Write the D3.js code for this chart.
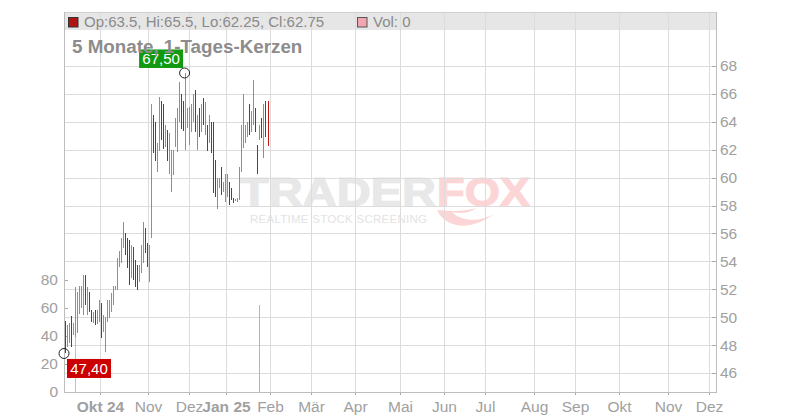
<!DOCTYPE html>
<html><head><meta charset="utf-8">
<script src="https://cdn.jsdelivr.net/npm/d3@7"></script>
<style>body{margin:0;background:#fff;} svg{display:block;font-family:"Liberation Sans",Arial,sans-serif;}</style>
</head><body><svg id="c" width="800" height="420"></svg>
<script>
// ---- data ----
const opens=[49.5,48.0,48.3,49.9,48.8,48.9,49.2,50.4,50.9,50.5,
52.8,50.4,51.6,50.4,49.7,50.3,49.6,49.8,50.8,49.1,
47.8,49.8,50.1,50.5,51.0,52.0,52.1,53.7,54.1,55.1,
55.9,55.4,55.3,53.0,54.9,53.9,53.6,52.6,53.3,54.1,
56.2,55.1,52.7,55.8,64.3,63.8,60.6,62.1,65.3,65.1,
62.3,63.2,60.4,59.1,60.3,62.4,62.0,64.2,65.8,65.3,
62.2,63.7,62.5,63.4,64.2,66.1,62.2,64.8,63.4,65.5,
63.2,63.6,62.6,63.8,63.8,61.0,57.9,59.3,60.6,59.0,
58.4,58.8,59.5,59.1,58.5,58.32,58.3,58.5,60.6,62.3,
62.6,63.0,65.1,63.4,63.9,64.8,62.2,62.8,64.1,61.6,
65.3,63.5];
const highs=[49.7,49.45,49.6,50.1,49.6,52.15,51.8,52.25,52.25,53.0,
53.0,52.15,51.8,50.5,50.35,50.5,50.5,51.25,51.0,50.15,
50.0,51.25,51.25,51.75,52.25,52.25,54.25,54.75,55.65,56.8,
56.05,55.65,55.55,55.15,55.05,54.1,53.75,53.75,55.15,56.8,
56.4,55.3,55.15,65.3,64.5,64.0,62.5,65.8,65.5,65.3,
63.75,63.4,63.2,62.0,62.0,64.25,65.0,66.85,66.0,65.5,
67.5,65.0,65.05,65.3,66.0,66.3,64.5,65.0,65.3,65.7,
65.4,63.75,64.5,64.0,64.0,61.25,59.95,59.95,60.75,59.7,
60.25,60.25,59.7,59.25,58.55,58.45,58.55,60.75,63.75,66.0,
63.75,64.0,65.3,64.75,67.0,65.0,62.35,63.75,64.25,65.3,
65.5,65.5];
const lows=[47.4,47.85,48.15,47.85,48.7,48.55,48.9,50.2,50.65,50.15,
50.85,50.15,50.35,49.65,49.6,49.45,49.5,49.65,48.5,48.95,
47.5,49.65,49.95,50.35,50.85,51.95,51.95,53.6,53.9,54.95,
54.45,53.5,52.3,52.8,52.65,52.15,51.95,52.5,53.15,53.9,
54.6,53.6,52.5,55.65,61.8,61.2,60.4,61.9,62.7,62.05,
62.2,61.2,60.25,58.95,60.2,62.2,61.85,64.0,63.5,63.35,
62.0,63.55,62.35,63.25,64.0,63.25,62.0,62.9,63.25,63.75,
63.05,61.9,62.5,61.75,58.9,58.6,57.75,59.25,58.75,58.95,
58.25,58.6,58.05,58.4,58.2,58.3,58.25,58.4,60.4,62.1,
62.5,62.9,63.05,63.25,63.75,63.25,60.25,62.7,62.85,61.4,
62.9,62.25];
const closes=[47.8,49.2,49.4,48.1,49.5,51.8,51.5,52.0,52.0,52.7,
51.1,51.9,50.5,49.8,50.2,49.6,50.4,51.0,48.7,50.0,
49.8,51.1,51.1,51.6,52.1,52.2,54.0,54.6,55.5,56.6,
54.6,53.7,52.5,55.0,52.8,52.3,52.1,53.6,55.0,56.6,
54.8,53.8,55.0,65.0,62.0,61.4,62.3,65.6,62.9,62.2,
63.6,61.4,63.0,61.8,61.9,64.1,64.8,66.6,63.7,63.5,
65.5,64.8,64.9,65.1,65.8,63.4,64.3,63.1,65.1,63.9,
65.2,62.1,64.3,61.9,59.1,58.8,59.8,59.9,58.9,59.6,
60.1,60.1,58.2,58.5,58.25,58.42,58.5,60.6,63.6,65.8,
63.6,63.9,63.2,64.6,66.8,63.4,60.4,63.6,63.0,65.1,
63.1,62.75];
const volDays=[5,97];
const volValues=[39.5,62];
const volSides=["up","flat"];
const monthLabels=["Okt 24","Nov","Dez","Jan 25","Feb","Mär","Apr","Mai","Jun","Jul","Aug","Sep","Okt","Nov","Dez"];
const monthTickIdx=[17.66,41.54,61.94,80.35,102.24,122.64,144.53,166.92,188.81,209.2,233.58,253.98,275.87,300.25,320.65];
const priceTicks=[46,48,50,52,54,56,58,60,62,64,66,68];
const volTicks=[0,20,40,60,80];
const titleText="5 Monate, 1-Tages-Kerzen";

// ---- layout ----
const L=64,R=716,T=12,B=392;
const GREEN="#5ab83a",RED="#bd1717";
const svg=d3.select("#c");
const x=d3.scaleLinear().domain([0,opens.length-1]).range([64.5,267.5]);
const y=d3.scaleLinear().domain([46,68]).range([373,66]);
const yv=d3.scaleLinear().domain([0,80]).range([392,280]);
const px=v=>Math.round(v)+0.5;

// header strip
svg.append("rect").attr("x",L).attr("y",T).attr("width",R-L).attr("height",18).attr("fill","#e6e6e6");

// watermark
const wm=svg.append("g");
wm.append("text").attr("x",240).attr("y",206).attr("font-size",40).attr("font-weight","bold")
  .attr("fill","#e8e8e8").attr("stroke","#e8e8e8").attr("stroke-width",1.2)
  .attr("textLength",196).attr("lengthAdjust","spacingAndGlyphs").text("TRADER");
wm.append("text").attr("x",437).attr("y",206).attr("font-size",40).attr("font-weight","bold")
  .attr("fill","#fcd6d6").attr("stroke","#fcd6d6").attr("stroke-width",1.2)
  .attr("textLength",93).attr("lengthAdjust","spacingAndGlyphs").text("FOX");
wm.append("text").attr("x",250).attr("y",223).attr("font-size",11.5)
  .attr("fill","#e3e3e3").attr("textLength",177).attr("lengthAdjust","spacing").text("REALTIME STOCK SCREENING");
wm.append("path").attr("d","M437,210 C445,228 470,232 494,214 C480,222 462,222 452,212 C462,214 470,213 476,208 C462,212 448,211 437,210 Z")
  .attr("fill","#fcd6d6");

// grid
const grid=svg.append("g").attr("stroke","#dcdcdc").attr("stroke-width",1).attr("shape-rendering","crispEdges");
grid.selectAll(".h").data(priceTicks).join("line")
  .attr("x1",L).attr("x2",R).attr("y1",d=>px(y(d))).attr("y2",d=>px(y(d)));
grid.selectAll(".v").data(monthTickIdx).join("line")
  .attr("y1",T).attr("y2",B).attr("x1",d=>px(x(d))).attr("x2",d=>px(x(d)));

// axes
const axisStyle=g=>{
  g.select(".domain").remove();
  g.selectAll("line").attr("stroke","#aaa").attr("shape-rendering","crispEdges");
  g.selectAll("text").attr("fill","#a0a0a0").attr("font-size",15.5).attr("font-family","Liberation Sans, Arial, sans-serif");
};
svg.append("g").attr("transform",`translate(${R},0)`)
  .call(d3.axisRight(y).tickValues(priceTicks).tickSize(-4).tickPadding(4)).call(axisStyle);
svg.append("g").attr("transform",`translate(${L},0)`)
  .call(d3.axisLeft(yv).tickValues(volTicks).tickSize(-4).tickPadding(6)).call(axisStyle);
const xa=svg.append("g").attr("transform",`translate(0,${B})`)
  .call(d3.axisBottom(x).tickValues(monthTickIdx).tickFormat((d,i)=>monthLabels[i]).tickSize(3).tickPadding(5.5))
  .call(axisStyle);
xa.selectAll("text").attr("font-weight",(d,i)=>/\d/.test(monthLabels[i])?"bold":"normal");

// frame
const fr=svg.append("g").attr("stroke","#bdbdbd").attr("shape-rendering","crispEdges");
fr.append("line").attr("x1",L).attr("x2",R+1).attr("y1",T+0.5).attr("y2",T+0.5).attr("stroke","#cfcfcf");
fr.append("line").attr("x1",L+0.5).attr("x2",L+0.5).attr("y1",T).attr("y2",B);
fr.append("line").attr("x1",R+0.5).attr("x2",R+0.5).attr("y1",T).attr("y2",B);
fr.append("line").attr("x1",L).attr("x2",R+1).attr("y1",B+0.5).attr("y2",B+0.5);

// volume
svg.append("g").attr("shape-rendering","crispEdges").selectAll("line").data(volDays).join("line")
  .attr("x1",d=>px(x(d))).attr("x2",d=>px(x(d)))
  .attr("y1",yv(0)).attr("y2",(d,i)=>yv(volValues[i]))
  .attr("stroke",(d,i)=>volSides[i]==="up"?"#9fdc8c":volSides[i]==="down"?"#f2a7b0":"#b4b4b4");

// candles
svg.append("g").attr("shape-rendering","crispEdges").selectAll("line").data(opens).join("line")
  .attr("x1",(d,i)=>px(x(i))).attr("x2",(d,i)=>px(x(i)))
  .attr("y1",(d,i)=>y(highs[i])).attr("y2",(d,i)=>y(lows[i]))
  .attr("stroke",(d,i)=>closes[i]>=opens[i]?GREEN:RED).attr("stroke-width",1);

// extremes
const fmt=v=>v.toFixed(2).replace(".",",");
const iMax=d3.maxIndex(highs), iMin=d3.minIndex(lows);
const cmx=x(iMax), cmy=y(highs[iMax]);
const cnx=x(iMin)-0.5, cny=y(lows[iMin]);
svg.append("rect").attr("x",cmx-46).attr("y",cmy-23.5).attr("width",44).attr("height",18.5).attr("fill","#119a11");
svg.append("text").attr("x",cmx-24).attr("y",cmy-9).attr("text-anchor","middle").attr("fill","#fff").attr("font-size",15).text(fmt(highs[iMax]));
svg.append("circle").attr("cx",cmx-0.5).attr("cy",cmy).attr("r",5).attr("fill","none").attr("stroke","#222");
svg.append("rect").attr("x",cnx+3).attr("y",cny+5.5).attr("width",44).attr("height",19).attr("fill","#cc0000");
svg.append("text").attr("x",cnx+25).attr("y",cny+20.5).attr("text-anchor","middle").attr("fill","#fff").attr("font-size",15).text(fmt(lows[iMin]));
svg.append("circle").attr("cx",cnx).attr("cy",cny).attr("r",5).attr("fill","none").attr("stroke","#222");

// legend
const n=opens.length-1;
svg.append("rect").attr("x",68.5).attr("y",17.5).attr("width",9.5).attr("height",9.5).attr("fill",closes[n]>=opens[n]?GREEN:"#b01515").attr("stroke","#333");
svg.append("text").attr("x",84).attr("y",26.5).attr("font-size",15).attr("fill","#8a8a8a")
  .text(`Op:${opens[n]}, Hi:${highs[n]}, Lo:${lows[n]}, Cl:${closes[n]}`);
svg.append("rect").attr("x",357.5).attr("y",17.5).attr("width",9.5).attr("height",9.5).attr("fill","#f2a7b0").attr("stroke","#555");
svg.append("text").attr("x",373).attr("y",26.5).attr("font-size",15).attr("fill","#8a8a8a").text("Vol: 0");

// title
svg.append("text").attr("x",72).attr("y",53).attr("font-size",18.8).attr("font-weight","bold").attr("fill","#8c8c8c").text(titleText);
</script></body></html>
